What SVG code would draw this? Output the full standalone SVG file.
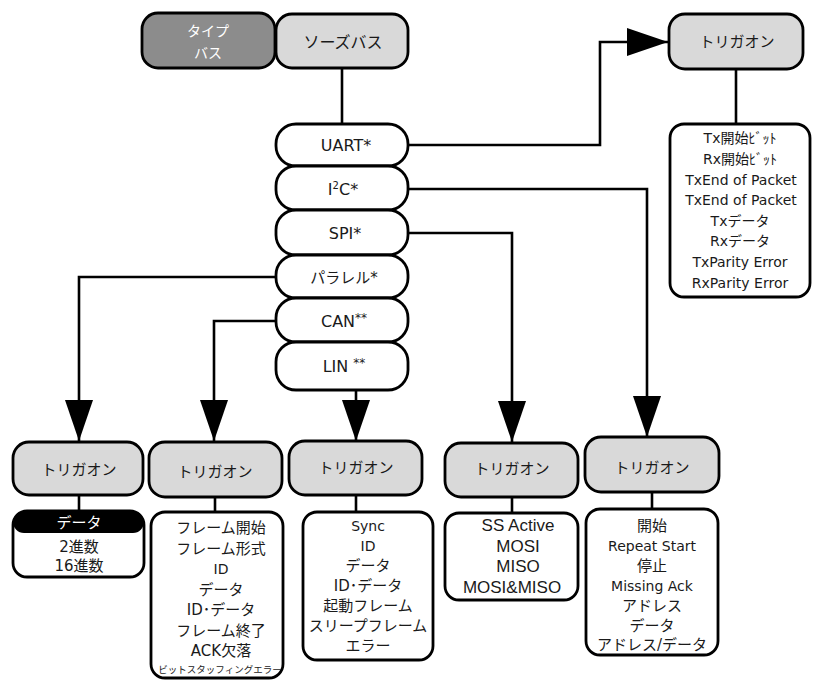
<svg xmlns="http://www.w3.org/2000/svg" width="813" height="680" viewBox="0 0 813 680">
  <style>
    text { font-family: "DejaVu Sans", "Noto Sans CJK JP", sans-serif; fill: #1a1a1a; text-anchor: middle; }
    .hdr { font-size: 15px; }
    .proto { font-size: 16px; }
    .lst { font-size: 14px; }
    .jp { font-size: 15px; }
    .spi { font-family: "Liberation Sans", "Noto Sans CJK JP", sans-serif; font-size: 17px; }
    .box { stroke: #000; stroke-width: 2.8; }
    .dark { fill: #8c8c8c; }
    .grey { fill: #d9d9d9; }
    .white { fill: #fff; }
    .wire { fill: none; stroke: #000; stroke-width: 2.6; }
  </style>
  <defs>
    <marker id="arrow" markerUnits="userSpaceOnUse" markerWidth="42" markerHeight="30" viewBox="0 0 42 30" refX="41" refY="15" orient="auto">
      <path d="M0,1 L41,15 L0,29 Z" fill="#000"/>
    </marker>
    <clipPath id="dataClip">
      <rect x="13" y="511" width="131" height="66" rx="14"/>
    </clipPath>
  </defs>
  <rect width="813" height="680" fill="#fff"/>

  <!-- connectors -->
  <g id="connectors">
    <path class="wire" d="M342,68 V124"/>
    <path class="wire" d="M408,145 H600 V42 H668" marker-end="url(#arrow)"/>
    <path class="wire" d="M736,69 V124"/>
    <path class="wire" d="M408,189 H647 V437" marker-end="url(#arrow)"/>
    <path class="wire" d="M408,233 H512 V442" marker-end="url(#arrow)"/>
    <path class="wire" d="M276,277 H79 V441" marker-end="url(#arrow)"/>
    <path class="wire" d="M276,321 H214 V441" marker-end="url(#arrow)"/>
    <path class="wire" d="M356,390 V441" marker-end="url(#arrow)"/>
    <path class="wire" d="M79,495 V511"/>
    <path class="wire" d="M215,497 V512"/>
    <path class="wire" d="M356,495 V512"/>
    <path class="wire" d="M512,497 V513"/>
    <path class="wire" d="M652,492 V509"/>
  </g>

  <!-- top header -->
  <g id="type-bus">
    <rect class="box dark" x="142" y="13" width="133" height="55" rx="16"/>
    <text x="208" y="36" style="font-size:14px;fill:#fff">タイプ</text>
    <text x="208" y="58" style="font-size:14px;fill:#fff">バス</text>
  </g>
  <g id="source-bus">
    <rect class="box grey" x="276" y="14" width="132" height="54" rx="16"/>
    <text x="343" y="48" style="font-size:16px">ソーズバス</text>
  </g>

  <!-- protocol selection -->
  <g id="uart">
    <rect class="box white" x="276" y="124" width="132" height="42" rx="20"/>
    <text class="proto" x="346" y="151">UART*</text>
  </g>
  <g id="i2c">
    <rect class="box white" x="276" y="166" width="132" height="44" rx="20"/>
    <text class="proto" x="343" y="195">I<tspan font-size="10" dy="-6">2</tspan><tspan dy="6">C*</tspan></text>
  </g>
  <g id="spi">
    <rect class="box white" x="276" y="210" width="132" height="45" rx="20"/>
    <text class="proto" x="345" y="239">SPI*</text>
  </g>
  <g id="parallel">
    <rect class="box white" x="276" y="255" width="132" height="43" rx="20"/>
    <text x="344" y="283" style="font-size:15px">パラレル*</text>
  </g>
  <g id="can">
    <rect class="box white" x="276" y="298" width="132" height="44" rx="20"/>
    <text class="proto" x="344" y="327">CAN<tspan font-size="12" dy="-5">**</tspan></text>
  </g>
  <g id="lin">
    <rect class="box white" x="276" y="342" width="132" height="48" rx="20"/>
    <text class="proto" x="344" y="372">LIN <tspan font-size="12" dy="-5">**</tspan></text>
  </g>

  <!-- UART trigger -->
  <g id="uart-trigger">
    <rect class="box grey" x="669" y="14" width="134" height="55" rx="16"/>
    <text class="hdr" x="737" y="47">トリガオン</text>
  </g>
  <g id="uart-list">
    <rect class="box white" x="670" y="124" width="140" height="173" rx="14"/>
    <text class="lst" x="740" y="143">Tx開始ﾋﾞｯﾄ</text>
    <text class="lst" x="740" y="164">Rx開始ﾋﾞｯﾄ</text>
    <text class="lst" x="741" y="185">TxEnd of Packet</text>
    <text class="lst" x="741" y="205">TxEnd of Packet</text>
    <text class="lst" x="740" y="226">Txデータ</text>
    <text class="lst" x="740" y="246">Rxデータ</text>
    <text class="lst" x="740" y="267">TxParity Error</text>
    <text class="lst" x="740" y="288">RxParity Error</text>
  </g>

  <!-- parallel trigger -->
  <g id="parallel-trigger">
    <rect class="box grey" x="13" y="442" width="130" height="53" rx="16"/>
    <text class="hdr" x="79" y="475">トリガオン</text>
  </g>
  <g id="parallel-list">
    <rect x="13" y="511" width="131" height="66" rx="14" fill="#fff"/>
    <rect x="13" y="511" width="131" height="22" rx="11" fill="#000" clip-path="url(#dataClip)"/>
    <rect class="box" x="13" y="511" width="131" height="66" rx="14" fill="none"/>
    <text class="jp" x="79" y="528" style="fill:#fff">データ</text>
    <text class="jp" x="79" y="552">2進数</text>
    <text class="jp" x="79" y="571">16進数</text>
  </g>

  <!-- CAN trigger -->
  <g id="can-trigger">
    <rect class="box grey" x="149" y="442" width="133" height="55" rx="16"/>
    <text class="hdr" x="215" y="477">トリガオン</text>
  </g>
  <g id="can-list">
    <rect class="box white" x="151" y="512" width="132" height="166" rx="14"/>
    <text class="jp" x="221" y="533">フレーム開始</text>
    <text class="jp" x="221" y="554">フレーム形式</text>
    <text class="lst" x="221" y="574">ID</text>
    <text class="jp" x="221" y="595">データ</text>
    <text class="jp" x="221" y="615">ID･データ</text>
    <text class="jp" x="221" y="636">フレーム終了</text>
    <text class="jp" x="221" y="656">ACK欠落</text>
    <text x="220" y="673" style="font-size:9.5px">ビットスタッフィングエラー</text>
  </g>

  <!-- LIN trigger -->
  <g id="lin-trigger">
    <rect class="box grey" x="289" y="441" width="133" height="54" rx="16"/>
    <text class="hdr" x="356" y="473">トリガオン</text>
  </g>
  <g id="lin-list">
    <rect class="box white" x="303" y="512" width="130" height="148" rx="14"/>
    <text class="lst" x="368" y="531">Sync</text>
    <text class="lst" x="368" y="551">ID</text>
    <text class="jp" x="368" y="571">データ</text>
    <text class="jp" x="368" y="591">ID･データ</text>
    <text class="jp" x="368" y="611">起動フレーム</text>
    <text class="jp" x="368" y="631">スリープフレーム</text>
    <text class="jp" x="368" y="651">エラー</text>
  </g>

  <!-- SPI trigger -->
  <g id="spi-trigger">
    <rect class="box grey" x="445" y="443" width="133" height="54" rx="16"/>
    <text class="hdr" x="512" y="474">トリガオン</text>
  </g>
  <g id="spi-list">
    <rect class="box white" x="445" y="513" width="133" height="87" rx="14"/>
    <text class="spi" x="518" y="531">SS Active</text>
    <text class="spi" x="518" y="552">MOSI</text>
    <text class="spi" x="518" y="572">MISO</text>
    <text class="spi" x="512" y="593">MOSI&amp;MISO</text>
  </g>

  <!-- I2C trigger -->
  <g id="i2c-trigger">
    <rect class="box grey" x="585" y="437" width="134" height="55" rx="16"/>
    <text class="hdr" x="652" y="473">トリガオン</text>
  </g>
  <g id="i2c-list">
    <rect class="box white" x="586" y="509" width="132" height="146" rx="14"/>
    <text class="jp" x="652" y="531">開始</text>
    <text class="lst" x="652" y="551">Repeat Start</text>
    <text class="jp" x="652" y="571">停止</text>
    <text class="lst" x="652" y="591">Missing Ack</text>
    <text class="jp" x="652" y="611">アドレス</text>
    <text class="jp" x="652" y="631">データ</text>
    <text class="jp" x="652" y="650">アドレス/データ</text>
  </g>
</svg>
